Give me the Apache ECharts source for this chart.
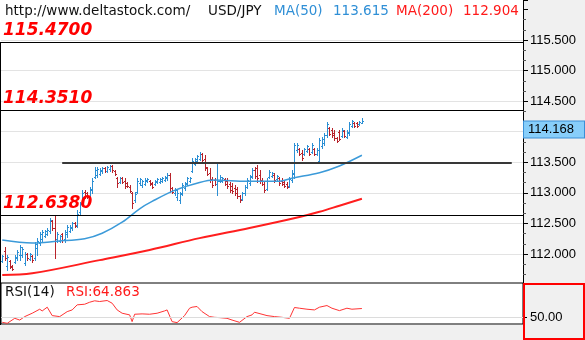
<!DOCTYPE html>
<html>
<head>
<meta charset="utf-8">
<script src="https://cdn.jsdelivr.net/npm/echarts@6/dist/echarts.min.js"></script>
<style>
  html, body { margin: 0; padding: 0; background: #ffffff; }
  #chart { width: 585px; height: 340px; }
</style>
</head>
<body>
<div id="chart"></div>
<script>
// USD/JPY hourly OHLC bars with MA(50), MA(200) and RSI(14)
const sourceUrl = 'http://www.deltastock.com/';
const pairName = 'USD/JPY';
const slotCount = 209; // bar slots along the time axis (right part left free)

const barOpen = [
  111.89,112.05,111.80,111.88,111.81,111.87,111.93,111.98,111.99,111.86,
  112.00,111.92,111.97,111.93,112.10,112.18,112.25,112.30,112.33,112.38,
  112.54,112.42,112.24,112.22,112.32,112.24,112.33,112.38,112.42,112.51,
  112.47,112.68,112.84,113.02,112.99,112.95,113.04,113.26,113.30,113.31,
  113.35,113.41,113.36,113.39,113.44,113.36,113.25,113.18,113.24,113.20,
  113.16,113.10,112.99,112.88,113.02,113.16,113.13,113.15,113.19,113.20,
  113.16,113.14,113.18,113.18,113.20,113.21,113.24,113.29,113.08,112.99,
  112.93,112.88,112.99,113.08,113.15,113.19,113.36,113.48,113.52,113.56,
  113.63,113.55,113.40,113.33,113.23,113.21,113.14,113.20,113.19,113.22,
  113.20,113.14,113.12,113.08,113.06,112.95,112.90,112.99,113.10,113.16,
  113.27,113.38,113.40,113.30,113.21,113.15,113.07,113.26,113.28,113.30,
  113.22,113.25,113.20,113.18,113.15,113.12,113.21,113.31,113.70,113.72,
  113.66,113.63,113.69,113.71,113.67,113.71,113.64,113.52,113.76,113.82,
  113.94,114.06,114.03,113.98,113.90,113.99,113.93,114.01,113.92,113.98,
  114.10,114.15,114.14,114.12,114.15
];
const barHigh = [
  111.98,112.11,111.98,111.90,111.82,111.98,112.07,112.15,112.11,112.03,
  112.02,112.02,111.98,112.20,112.26,112.36,112.39,112.39,112.43,112.59,
  112.56,112.62,112.36,112.31,112.34,112.39,112.47,112.47,112.52,112.52,
  112.72,112.85,113.05,113.05,113.01,113.10,113.24,113.42,113.42,113.40,
  113.42,113.42,113.44,113.46,113.46,113.37,113.26,113.26,113.26,113.24,
  113.18,113.13,113.01,113.01,113.24,113.24,113.21,113.24,113.24,113.21,
  113.18,113.21,113.24,113.24,113.26,113.28,113.32,113.32,113.10,113.08,
  113.05,113.01,113.16,113.18,113.26,113.26,113.57,113.57,113.62,113.67,
  113.65,113.62,113.42,113.41,113.26,113.24,113.50,113.29,113.26,113.24,
  113.24,113.18,113.16,113.13,113.10,112.97,113.01,113.13,113.24,113.29,
  113.41,113.42,113.46,113.37,113.24,113.18,113.24,113.37,113.34,113.32,
  113.29,113.26,113.24,113.21,113.18,113.26,113.37,113.82,113.82,113.73,
  113.70,113.73,113.78,113.73,113.82,113.73,113.73,113.90,113.91,113.98,
  114.16,114.08,114.06,114.03,113.91,114.03,114.06,114.03,114.03,114.16,
  114.19,114.16,114.16,114.18,114.22
];
const barLow = [
  111.87,111.90,111.74,111.77,111.74,111.85,111.90,111.90,111.95,111.82,
  111.90,111.90,111.87,111.90,111.98,112.15,112.20,112.28,112.31,112.34,
  112.39,111.93,112.20,112.20,112.20,112.20,112.28,112.36,112.39,112.44,
  112.44,112.64,112.80,112.92,112.92,112.93,113.00,113.24,113.26,113.29,
  113.33,113.34,113.34,113.36,113.34,113.29,113.10,113.16,113.16,113.08,
  113.10,113.01,112.75,112.85,113.00,113.13,113.10,113.13,113.18,113.13,
  113.08,113.13,113.16,113.16,113.18,113.19,113.21,113.01,113.00,112.97,
  112.88,112.83,112.97,113.05,113.13,113.18,113.34,113.46,113.50,113.54,
  113.50,113.37,113.29,113.18,113.10,113.13,112.97,113.18,113.18,113.13,
  113.08,113.01,113.00,112.97,112.92,112.85,112.88,112.97,113.08,113.13,
  113.24,113.24,113.18,113.16,113.13,113.01,113.05,113.24,113.26,113.18,
  113.21,113.13,113.13,113.10,113.08,113.10,113.18,113.24,113.67,113.62,
  113.54,113.62,113.67,113.62,113.65,113.62,113.62,113.49,113.73,113.78,
  113.91,113.95,113.91,113.86,113.83,113.86,113.91,113.91,113.90,113.95,
  114.08,114.08,114.08,114.11,114.14
];
const barClose = [
  111.96,111.93,111.95,111.79,111.76,111.95,112.04,112.12,112.08,112.00,
  111.93,112.00,111.90,112.16,112.22,112.33,112.36,112.37,112.40,112.55,
  112.42,112.25,112.33,112.29,112.23,112.36,112.44,112.45,112.50,112.46,
  112.66,112.82,113.00,112.95,112.94,113.06,113.20,113.38,113.39,113.37,
  113.40,113.36,113.42,113.44,113.37,113.31,113.16,113.24,113.18,113.11,
  113.11,113.03,112.83,112.98,113.20,113.22,113.19,113.21,113.23,113.15,
  113.10,113.19,113.22,113.22,113.24,113.26,113.30,113.08,113.02,113.05,
  113.00,112.98,113.13,113.16,113.24,113.24,113.52,113.55,113.60,113.64,
  113.53,113.42,113.31,113.22,113.13,113.15,113.20,113.26,113.24,113.15,
  113.12,113.04,113.03,113.00,112.95,112.88,112.99,113.10,113.21,113.26,
  113.37,113.28,113.24,113.20,113.15,113.05,113.20,113.34,113.32,113.21,
  113.27,113.16,113.15,113.12,113.10,113.22,113.33,113.78,113.79,113.64,
  113.57,113.71,113.76,113.64,113.78,113.64,113.70,113.86,113.88,113.95,
  114.12,113.97,113.94,113.89,113.85,113.88,114.03,113.93,114.00,114.13,
  114.17,114.10,114.10,114.16,114.168
];

// moving averages: [bar index, value]
const ma50 = [
  [0,112.23],[12,112.18],[22,112.21],[33,112.25],[40,112.34],[48,112.52],
  [55,112.74],[60,112.86],[69,113.04],[79,113.17],[85,113.21],[98,113.19],
  [111,113.19],[116,113.24],[127,113.33],[135,113.44],[144,113.615]
];
const ma200 = [
  [0,111.656],[12,111.684],[39,111.90],[59,112.065],[79,112.26],[99,112.425],
  [119,112.605],[127,112.69],[135,112.79],[144,112.904]
];
// RSI(14): [bar index, value]
const rsi14 = [
  [0,41.5],[2,39.9],[5,48.3],[7,45.4],[9,51.2],[12,56.9],[15,63.7],[16,60.8],
  [18,67.1],[20,52.9],[23,51.2],[26,59.6],[28,62.5],[30,71.1],[33,72.1],[35,75.5],
  [37,77.9],[39,76.7],[42,78.4],[44,73.8],[46,62.5],[48,56.9],[51,54.1],[52,42.7],
  [53,55.2],[56,55.8],[59,55.2],[62,56.9],[65,60.8],[66,62.5],[68,42.7],[70,41.0],
  [73,52.9],[75,65.4],[76,67.1],[78,68.3],[80,59.6],[83,51.2],[85,50.0],[87,49.5],
  [90,48.3],[92,45.4],[95,41.5],[98,51.2],[100,54.1],[101,58.6],[104,55.2],[106,52.9],
  [109,51.2],[112,50.0],[115,48.3],[117,66.6],[119,65.4],[122,63.7],[125,62.5],
  [127,67.1],[130,69.9],[132,65.4],[135,61.3],[138,65.4],[140,63.7],[144,64.863]
];

const levelLines = [115.47, 114.351, 112.638];
const supportLine = { value: 113.5, fromBar: 24, toBar: 204 };
const priceAxis = { min: 111.5, max: 116.154, step: 0.5 };
const rsiAxis = { min: 38.7, max: 108, labels: [50] };

const UP = '#2b8fd4';
const DOWN = '#b8232b';
const AXIS_FONT = 'Liberation Sans';
const HEAD_FONT = 'DejaVu Sans';

const slots = Array.from({ length: slotCount }, (_, i) => String(i));
const ohlc = barOpen.map((o, i) => [i, o, barHigh[i], barLow[i], barClose[i]]);
const lastClose = barClose[barClose.length - 1];

function renderBar(params, api) {
  const i = api.value(0);
  const o = api.value(1), h = api.value(2), l = api.value(3), c = api.value(4);
  const pO = api.coord([i, o]);
  const pH = api.coord([i, h]);
  const pL = api.coord([i, l]);
  const pC = api.coord([i, c]);
  const x = Math.round(pO[0]) + 0.5;
  const yO = Math.round(pO[1]) + 0.5;
  const yC = Math.round(pC[1]) + 0.5;
  const style = { stroke: c >= o ? UP : DOWN, lineWidth: 1 };
  return {
    type: 'group',
    children: [
      { type: 'line', shape: { x1: x, y1: Math.round(pH[1]), x2: x, y2: Math.round(pL[1]) + 1 }, style },
      { type: 'line', shape: { x1: x - 1.5, y1: yO, x2: x - 0.5, y2: yO }, style },
      { type: 'line', shape: { x1: x + 0.5, y1: yC, x2: x + 1.5, y2: yC }, style }
    ]
  };
}

function levelLabel(v) {
  return {
    show: true,
    position: 'insideStartTop',
    distance: [2, 3],
    color: '#ff0000',
    fontFamily: HEAD_FONT,
    fontSize: 17,
    fontWeight: 'bold',
    fontStyle: 'italic',
    formatter: () => v.toFixed(4)
  };
}

const chart = echarts.init(document.getElementById('chart'), null, { renderer: 'canvas' });
chart.setOption({
  animation: false,
  backgroundColor: '#ffffff',
  grid: [
    { left: 1, right: 62, top: 0, bottom: 55.4, show: false },
    { left: 1, right: 62, top: 283, height: 41, show: true, borderColor: '#000', borderWidth: 1, backgroundColor: '#ffffff' }
  ],
  xAxis: [
    { type: 'category', gridIndex: 0, data: slots, show: false, boundaryGap: true },
    { type: 'category', gridIndex: 1, data: slots, show: false, boundaryGap: true }
  ],
  yAxis: [
    {
      type: 'value', gridIndex: 0, position: 'right',
      min: priceAxis.min, max: priceAxis.max, interval: priceAxis.step,
      axisLine: { show: true, lineStyle: { color: '#000', width: 1 } },
      axisTick: { show: true, length: 5, lineStyle: { color: '#000' } },
      minorTick: { show: true, splitNumber: 3, length: 3, lineStyle: { color: '#555' } },
      axisLabel: {
        margin: 7, color: '#000', fontFamily: AXIS_FONT, fontSize: 13,
        formatter: v => (v > 115.6 || v < 111.9) ? '' : v.toFixed(3)
      },
      splitLine: {
        show: true, showMinLine: false, showMaxLine: false,
        lineStyle: { color: ['#e3e3e3','#e3e3e3','#e3e3e3','#e3e3e3','#e3e3e3','#e3e3e3','#e3e3e3','#e3e3e3','rgba(0,0,0,0)'], width: 1 }
      }
    },
    {
      type: 'value', gridIndex: 1, position: 'right',
      min: rsiAxis.min, max: rsiAxis.max,
      axisLine: { show: true, lineStyle: { color: '#000' } },
      axisTick: { show: true, length: 4, customValues: rsiAxis.labels, lineStyle: { color: '#000' } },
      axisLabel: {
        margin: 7, color: '#000', fontFamily: AXIS_FONT, fontSize: 13,
        customValues: rsiAxis.labels, formatter: v => v.toFixed(2)
      },
      splitLine: { show: false }
    }
  ],
  series: [
    {
      name: pairName, type: 'custom', xAxisIndex: 0, yAxisIndex: 0,
      renderItem: renderBar, data: ohlc, encode: { x: 0, y: [1, 2, 3, 4] }, clip: true, z: 3,
      markLine: {
        silent: true, symbol: ['none', 'none'], animation: false, precision: 4,
        data: [
          ...levelLines.map(v => ({ yAxis: v, lineStyle: { color: '#000', width: 1, type: 'solid' }, label: levelLabel(v) })),
          [
            { coord: [String(supportLine.fromBar), supportLine.value], lineStyle: { color: '#383838', width: 2, type: 'solid' }, label: { show: false } },
            { coord: [String(supportLine.toBar), supportLine.value] }
          ],
          {
            yAxis: lastClose, lineStyle: { color: 'rgba(0,0,0,0)', width: 0 },
            label: {
              show: true, opacity: 1,
              position: 'end', distance: 1, verticalAlign: 'top', align: 'left',
              formatter: () => lastClose.toFixed(3),
              color: '#000', fontFamily: AXIS_FONT, fontSize: 13, lineHeight: 14,
              backgroundColor: '#87cefa', borderColor: '#3a8fd6', borderWidth: 1,
              padding: [1, 4, 1, 4], width: 52
            }
          }
        ]
      }
    },
    {
      name: 'MA(50)', type: 'line', xAxisIndex: 0, yAxisIndex: 0, data: ma50,
      showSymbol: false, smooth: 0.35, z: 4,
      lineStyle: { color: '#3b9ad9', width: 1.5 }
    },
    {
      name: 'MA(200)', type: 'line', xAxisIndex: 0, yAxisIndex: 0, data: ma200,
      showSymbol: false, smooth: 0.35, z: 4,
      lineStyle: { color: '#ff1e1e', width: 2 }
    },
    {
      name: 'RSI', type: 'line', xAxisIndex: 1, yAxisIndex: 1, data: rsi14,
      showSymbol: false, z: 4,
      lineStyle: { color: '#ff3333', width: 1 },
      markLine: {
        silent: true, symbol: ['none', 'none'], label: { show: false },
        lineStyle: { color: '#dcdcdc', width: 1, type: 'solid' },
        data: [{ yAxis: 50 }]
      }
    }
  ],
  graphic: [
    { type: 'rect', z: -10, shape: { x: 523, y: 0, width: 62, height: 340 }, style: { fill: '#f0f0f0' } },
    { type: 'rect', z: -10, shape: { x: 0, y: 325, width: 523, height: 15 }, style: { fill: '#f0f0f0' } },
    { type: 'line', z: 5, shape: { x1: 0.5, y1: 42, x2: 0.5, y2: 325 }, style: { stroke: '#000', lineWidth: 1 } },
    { type: 'rect', z: 100, shape: { x: 524, y: 284, width: 60, height: 55 }, style: { fill: 'none', stroke: '#ff0000', lineWidth: 2 } },
    { type: 'text', z: 10, left: 5, top: 4, style: { text: sourceUrl, fill: '#111', font: '13.5px "' + HEAD_FONT + '"' } },
    { type: 'text', z: 10, left: 208, top: 4, style: { text: pairName, fill: '#111', font: '13.5px "' + HEAD_FONT + '"' } },
    { type: 'text', z: 10, left: 274, top: 4, style: { text: 'MA(50)', fill: '#2f8fd6', font: '13.5px "' + HEAD_FONT + '"' } },
    { type: 'text', z: 10, left: 333, top: 4, style: { text: ma50[ma50.length - 1][1].toFixed(3), fill: '#2f8fd6', font: '13.5px "' + HEAD_FONT + '"' } },
    { type: 'text', z: 10, left: 396, top: 4, style: { text: 'MA(200)', fill: '#ff1a1a', font: '13.5px "' + HEAD_FONT + '"' } },
    { type: 'text', z: 10, left: 463, top: 4, style: { text: ma200[ma200.length - 1][1].toFixed(3), fill: '#ff1a1a', font: '13.5px "' + HEAD_FONT + '"' } },
    { type: 'text', z: 10, left: 5, top: 285, style: { text: 'RSI(14)', fill: '#111', font: '13.5px "' + HEAD_FONT + '"' } },
    { type: 'text', z: 10, left: 66, top: 285, style: { text: 'RSI:' + rsi14[rsi14.length - 1][1].toFixed(3), fill: '#ff1a1a', font: '13.5px "' + HEAD_FONT + '"' } }
  ]
});
</script>
</body>
</html>
